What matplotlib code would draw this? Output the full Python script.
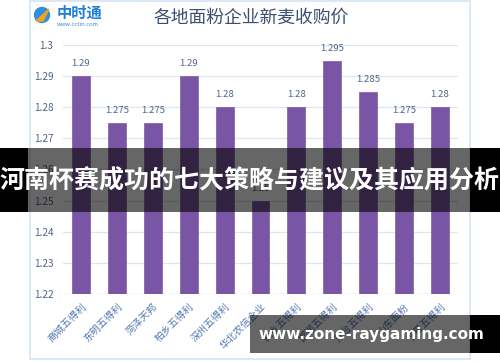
import matplotlib
matplotlib.use("Agg")
import matplotlib.pyplot as plt
from matplotlib.patches import Rectangle, Circle, Polygon

plt.rcParams['font.family'] = ['Noto Sans CJK SC', 'DejaVu Sans']

categories = ["商城五得利", "东明五得利", "菏泽天邦", "柏乡五得利", "深州五得利",
              "华北农信企业", "新乡五得利", "邯郸五得利", "邢台五得利", "山东面粉",
              "宁晋五得利"]
values = [1.29, 1.275, 1.275, 1.29, 1.28, 1.25, 1.28, 1.295, 1.285, 1.275, 1.28]
value_labels = ["1.29", "1.275", "1.275", "1.29", "1.28", "1.25", "1.28", "1.295",
                "1.285", "1.275", "1.28"]
yticks = [1.22, 1.23, 1.24, 1.25, 1.26, 1.27, 1.28, 1.29, 1.3]
ytick_labels = ["1.22", "1.23", "1.24", "1.25", "1.26", "1.27", "1.28", "1.29", "1.3"]
title = "各地面粉企业新麦收购价"
banner_text = "河南杯赛成功的七大策略与建议及其应用分析"
url_text = "www.zone-raygaming.com"

W, H = 500, 362
fig = plt.figure(figsize=(W / 100, H / 100), dpi=100)
fig.patch.set_facecolor('white')

def px(x0, y0, x1, y1):
    return [x0 / W, 1 - y1 / H, (x1 - x0) / W, (y1 - y0) / H]

bg = fig.add_axes([0, 0, 1, 1], zorder=0)
bg.set_xlim(0, W)
bg.set_ylim(H, 0)
bg.axis('off')
bg.add_patch(Rectangle((30, 1), 440, 358, fill=False, edgecolor='#D6E4F3', lw=1.2))

# logo
bg.add_patch(Circle((42, 15), 7.5, color='#2F8FE0'))
bg.add_patch(Polygon([[36, 21], [49, 9], [43, 21]], color='#F7A21B'))
bg.text(57, 13, "中时通", fontsize=11, fontweight='bold', color='#1E7FD8', va='center', ha='left')
bg.text(57, 24.5, "www.cctin.com", fontsize=4.2, color='#3D8BD6', va='center', ha='left')
bg.text(251, 18, title, fontsize=12.8, color='#3B4F6E', va='center', ha='center')

ax = fig.add_axes(px(63, 45, 458, 294), zorder=1)
ax.patch.set_alpha(0)
x = list(range(len(categories)))
ax.bar(x, [v - 1.22 for v in values], bottom=1.22, width=0.5, color='#7B55A5',
       edgecolor='#6A4893', lw=0.4, zorder=3)
for xi, v, lab in zip(x, values, value_labels):
    ax.text(xi, v + 0.0025, lab, ha='center', va='bottom', fontsize=6.9,
            color='#4E6487', zorder=4)
ax.set_xlim(-0.5, len(categories) - 0.5)
ax.set_ylim(1.22, 1.3)
ax.set_yticks(yticks)
ax.set_yticklabels(ytick_labels, fontsize=7.2, color='#4E6487')
ax.grid(axis='y', color='#DCE7F4', lw=0.9, zorder=0)
ax.set_xticks(x)
ax.set_xticklabels(categories, rotation=45, ha='right', rotation_mode='anchor',
                   fontsize=7.2, color='#5578B0')
ax.tick_params(axis='both', length=0, pad=5)
ax.tick_params(axis='y', pad=7)
for s in ax.spines.values():
    s.set_visible(False)
ax.axhline(1.22, color='#DCE7F4', lw=1.0, zorder=2)

ov = fig.add_axes([0, 0, 1, 1], zorder=5)
ov.set_xlim(0, W)
ov.set_ylim(H, 0)
ov.axis('off')
ov.patch.set_alpha(0)
ov.add_patch(Rectangle((0, 148), 28, 64, color='black', lw=0))
ov.add_patch(Rectangle((470, 148), 30, 64, color='black', lw=0))
ov.add_patch(Rectangle((28, 148), 442, 64, color='black', alpha=0.6, lw=0))
ov.text(250, 181, banner_text, fontsize=18.0, fontweight='bold', color='white',
        ha='center', va='center')
ov.add_patch(Rectangle((250, 315), 220, 38, color='black', alpha=0.6, lw=0))
ov.add_patch(Rectangle((470, 315), 30, 38, color='black', lw=0))
ov.text(371, 334, url_text, fontsize=11, fontweight='bold', color='white',
        ha='center', va='center', family='DejaVu Sans')

fig.savefig('out.png', dpi=100)
